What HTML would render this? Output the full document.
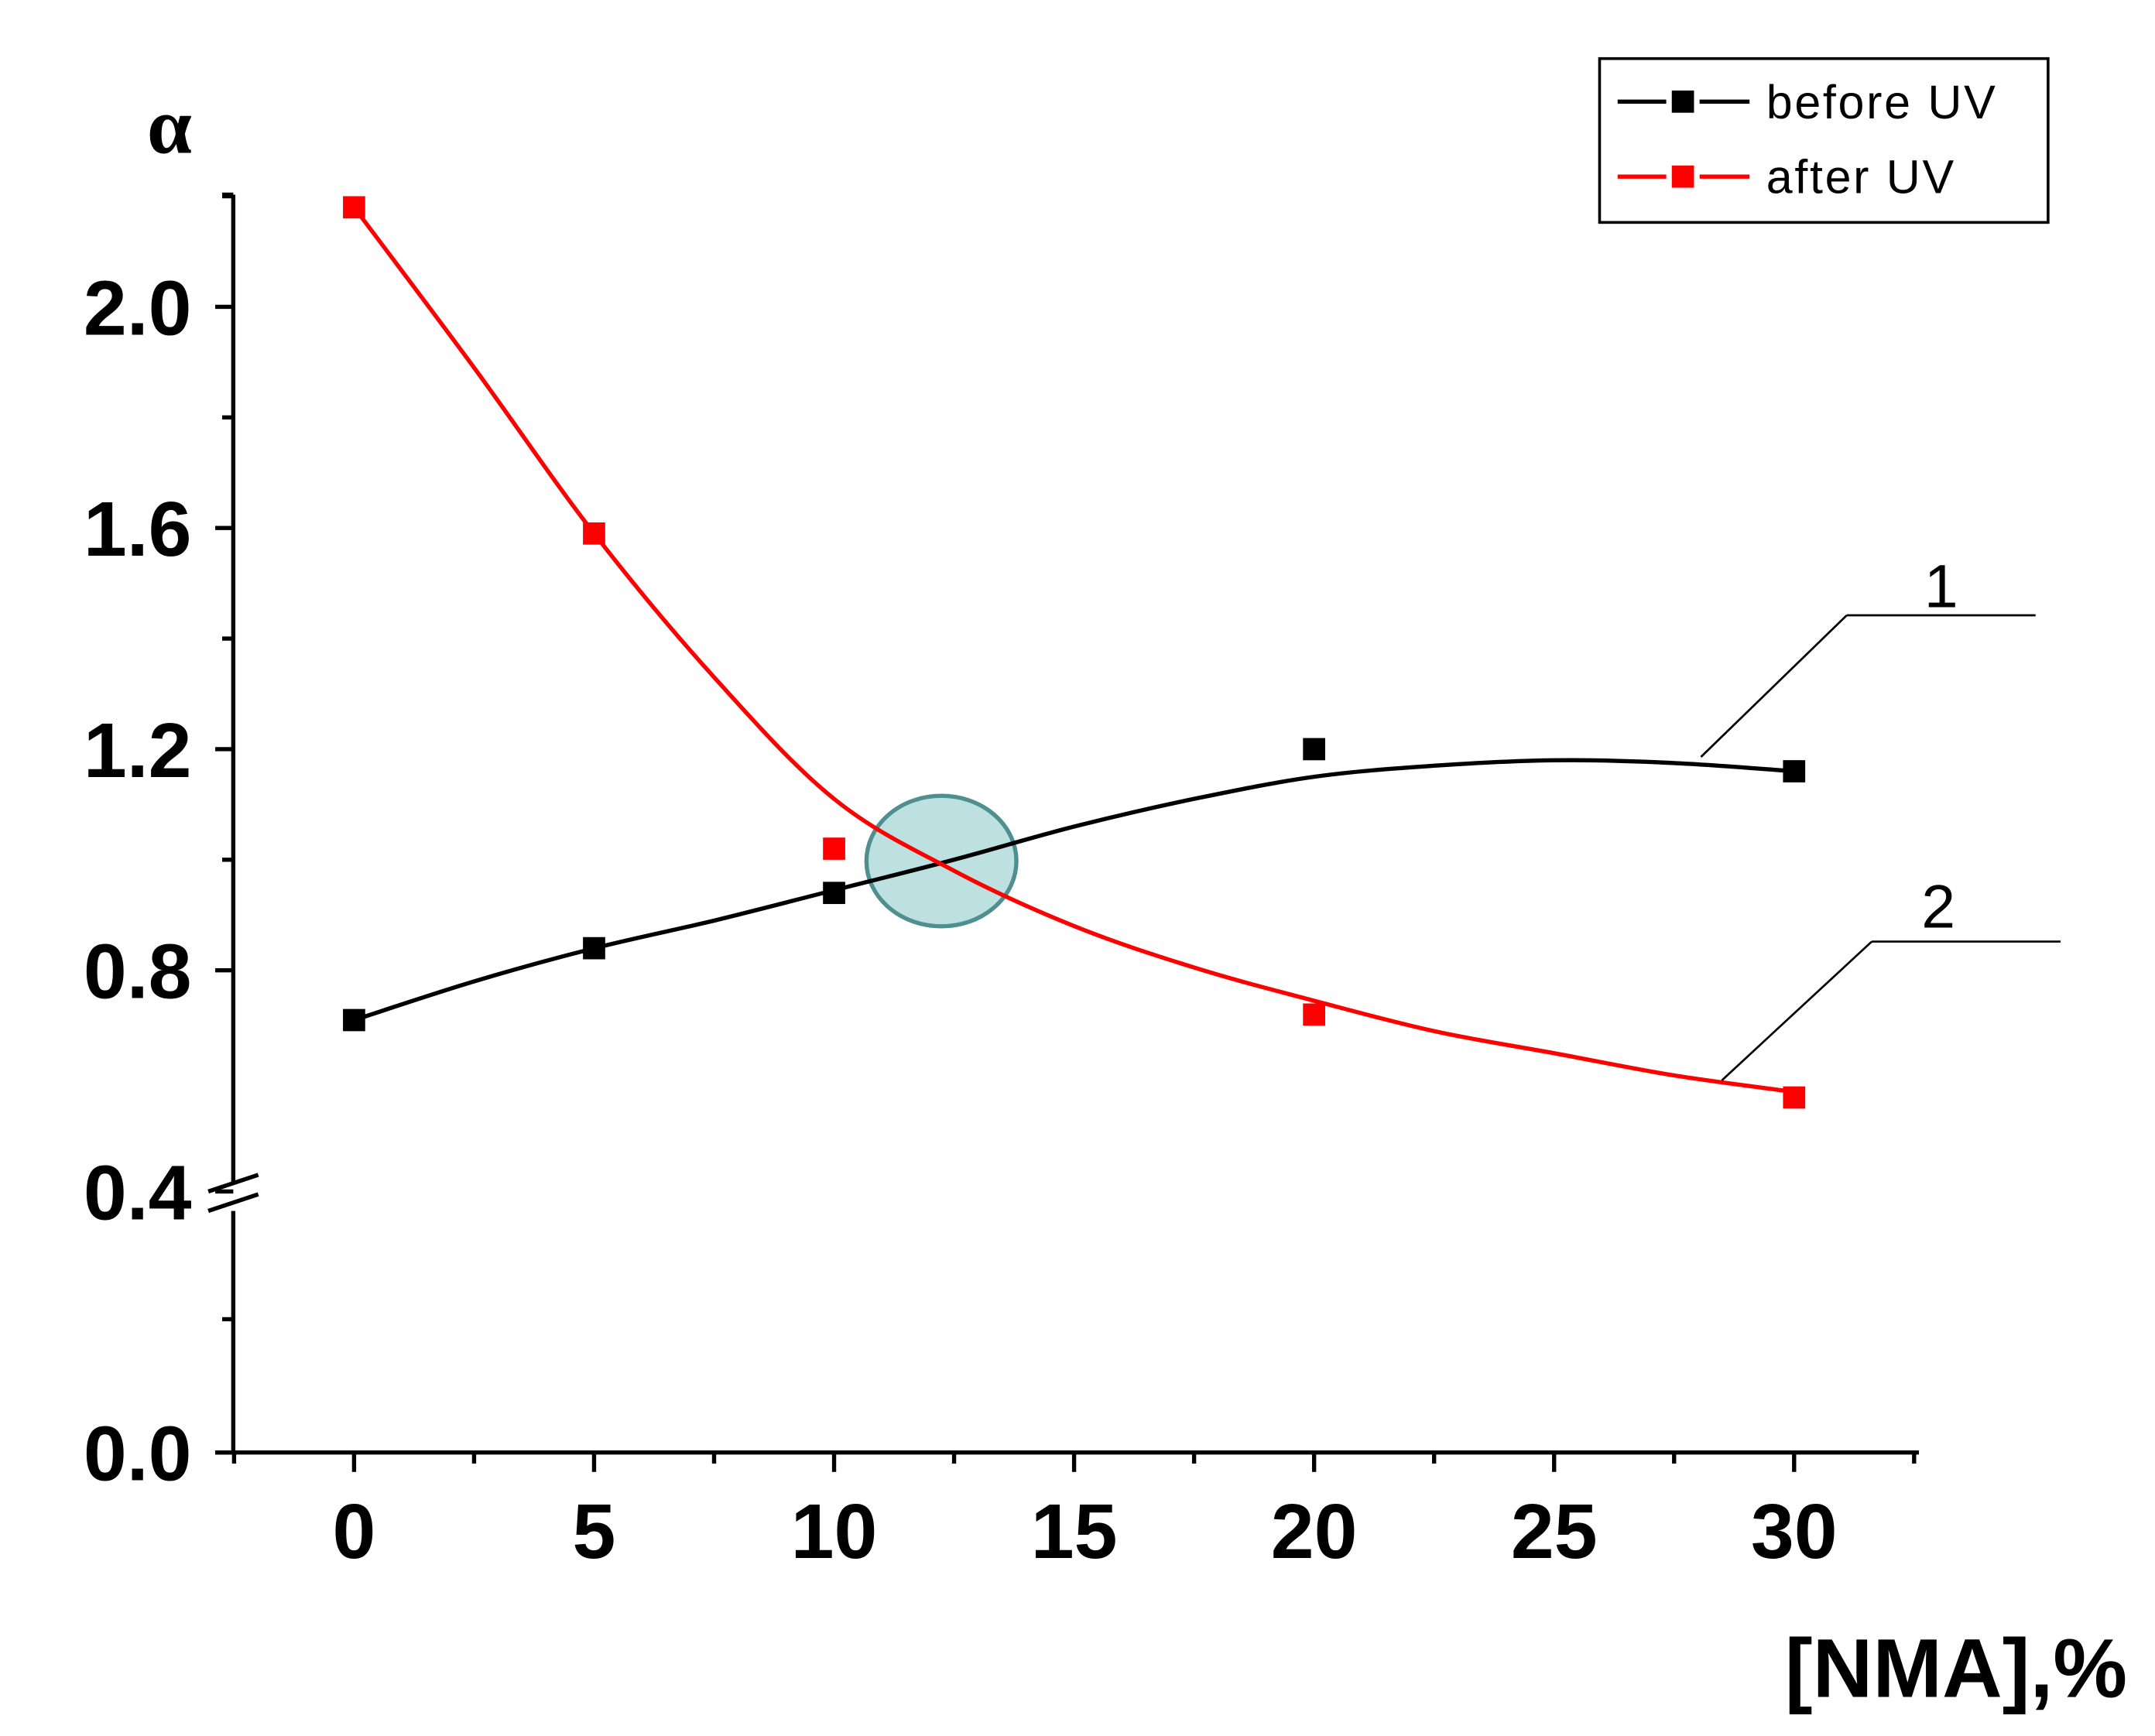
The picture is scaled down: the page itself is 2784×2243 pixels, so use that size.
<!DOCTYPE html>
<html><head><meta charset="utf-8"><style>html,body{margin:0;padding:0;background:#fff}svg{display:block}</style></head>
<body>
<svg id="chart" width="2784" height="2243" viewBox="0 0 1552 1250" xmlns="http://www.w3.org/2000/svg" font-family="Liberation Sans, Arial, sans-serif">
<rect width="1552" height="1250" fill="#fff"/>
<g id="g"></g>
</svg>
<script>
const xs=[0,5,10,20,30];
const beforeUV=[0.71,0.84,0.94,1.2,1.16];
const afterUV=[2.18,1.59,1.02,0.72,0.57];
const fitX=[0,2.5,5,7.5,10,12.5,15,17.5,20,22.5,25,27.5,30];
const fitBefore=[0.71,0.78,0.84,0.89,0.945,1.0,1.06,1.11,1.15,1.17,1.18,1.175,1.16];
const fitAfter=[2.18,1.89,1.59,1.33,1.11,0.98,0.88,0.805,0.745,0.69,0.65,0.61,0.58];
const yTickVals=[0.0,0.4,0.8,1.2,1.6,2.0];
const yTickLabels=["0.0","0.4","0.8","1.2","1.6","2.0"];
const xTickVals=[0,5,10,15,20,25,30];
const xTickLabels=["0","5","10","15","20","25","30"];

const NS="http://www.w3.org/2000/svg";
const g=document.getElementById('g');
function X(v){return 255+v*34.57;}
function Y(v){return v>=0.4?(858-(v-0.4)*398.25):(1042-v*460);}
function mk(tag,attrs,parent){const e=document.createElementNS(NS,tag);for(const k in attrs)e.setAttribute(k,attrs[k]);(parent||g).appendChild(e);return e;}
function line(x1,y1,x2,y2,c,w){return mk('line',{x1,y1,x2,y2,stroke:c,'stroke-width':w});}
function txt(s,x,y,size,anchor,weight,fam){const t=mk('text',{x,y,'font-size':size,'text-anchor':anchor||'start','font-weight':weight||'normal'});if(fam)t.setAttribute('font-family',fam);t.textContent=s;return t;}

let a=line(168,140,168,852,'#000',3);


a=line(168,872,168,1046,'#000',3);


a=line(155,1046,1382,1046,'#000',3);


line(160,140,168,140,'#000',3);
a=line(150,858,186,846,'#000',3);


line(150,872,186,860,'#000',3);
yTickVals.forEach((v,i)=>{
  const y=v===0?1046:Y(v);
  line(155,y,168,y,'#000',3);
  const t=txt(yTickLabels[i],138,y+20,56,'end','bold');
  
  
});
[1.0,1.4,1.8,2.2].forEach(v=>line(160,Y(v),168,Y(v),'#000',3));
line(160,950,168,950,'#000',3);
for(let v=-2.5;v<=32.5;v+=2.5){
  const major=Math.abs(v%5)<1e-6;
  line(X(v),1046,X(v),1046+(major?14:8),'#000',3);
}
xTickVals.forEach((v,i)=>{
  const t=txt(xTickLabels[i],X(v),1122,56,'middle','bold');
  
  
});
let t=txt('α',122,110,58,'middle','bold','Liberation Serif, serif');


t=txt('[NMA],%',1532,1222,60,'end','bold');



const c=mk('ellipse',{cx:678,cy:620,rx:54,ry:47,fill:'#bde0e0',stroke:'#4f8f8f','stroke-width':3});



function curve(vals,color,name){
  const P=fitX.map((x,i)=>[X(x),Y(vals[i])]);
  let d='M'+P[0][0].toFixed(1)+' '+P[0][1].toFixed(1);
  for(let i=0;i<P.length-1;i++){
    const p0=P[Math.max(i-1,0)],p1=P[i],p2=P[i+1],p3=P[Math.min(i+2,P.length-1)];
    const c1=[p1[0]+(p2[0]-p0[0])/6,p1[1]+(p2[1]-p0[1])/6];
    const c2=[p2[0]-(p3[0]-p1[0])/6,p2[1]-(p3[1]-p1[1])/6];
    d+=' C'+c1.map(n=>n.toFixed(1)).join(' ')+' '+c2.map(n=>n.toFixed(1)).join(' ')+' '+p2[0].toFixed(1)+' '+p2[1].toFixed(1);
  }
  const p=mk('path',{d,fill:'none',stroke:color,'stroke-width':3,'stroke-linejoin':'round'});
  
  
}
curve(fitBefore,'#000','before-uv-curve');
curve(fitAfter,'#f00','after-uv-curve');
function markers(vals,color,name){
  xs.forEach((x,i)=>{
    const r=mk('rect',{x:X(x)-8,y:Y(vals[i])-8,width:16,height:16,fill:color});
    
    
  });
}
markers(beforeUV,'#000','before-uv-point');
markers(afterUV,'#f00','after-uv-point');

a=line(1330,443,1466,443,'#000',1.5);


line(1330,443,1225,545,'#000',1.5);
t=txt('1',1398,437,44,'middle');


a=line(1348,678,1484,678,'#000',1.5);


line(1348,678,1240,778,'#000',1.5);
t=txt('2',1396,668,44,'middle');



const lg=mk('g',{});


mk('rect',{x:1152,y:42,width:323,height:118,fill:'#fff',stroke:'#000','stroke-width':2},lg);
[['before UV','#000',73],['after UV','#f00',127]].forEach(([lab,col,y])=>{
  const e=mk('g',{},lg);
  
  
  mk('line',{x1:1165,y1:y,x2:1200,y2:y,stroke:col,'stroke-width':3},e);
  mk('line',{x1:1224,y1:y,x2:1260,y2:y,stroke:col,'stroke-width':3},e);
  mk('rect',{x:1204,y:y-8,width:16,height:16,fill:col},e);
  const tt=mk('text',{x:1272,y:y+12,'font-size':34,'letter-spacing':'1.5'},e);
  tt.textContent=lab;
});
</script>
</body></html>
